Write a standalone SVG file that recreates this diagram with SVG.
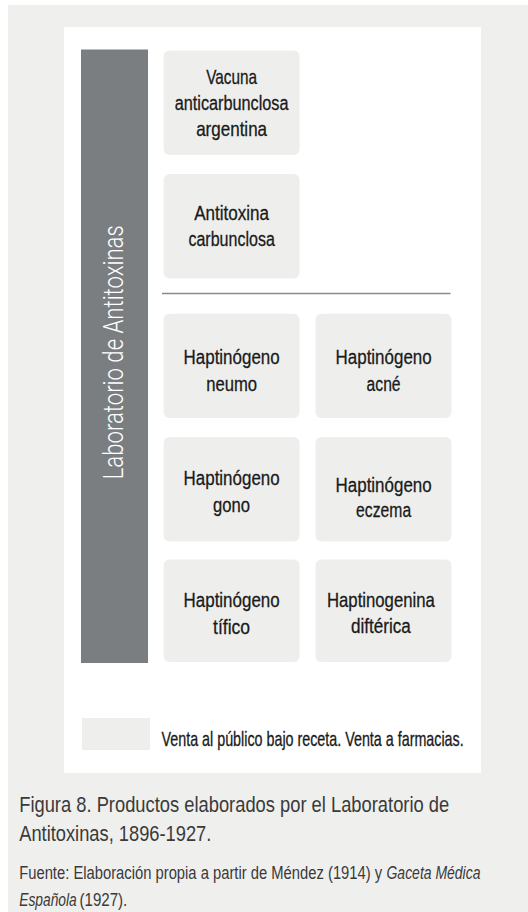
<svg xmlns="http://www.w3.org/2000/svg" width="528" height="912" viewBox="0 0 528 912">
<style>
.bg{fill:#efefee}
.panel{fill:#ffffff}
.box{fill:#eeefed}
.t{font-family:"Liberation Sans",Arial,sans-serif;font-size:21px;fill:#1a1a1a;stroke:#1a1a1a;stroke-width:0.3;text-anchor:middle}
.lg{font-family:"Liberation Sans",Arial,sans-serif;font-size:20px;fill:#1a1a1a;stroke:#1a1a1a;stroke-width:0.3}
.cap{font-family:"Liberation Sans",Arial,sans-serif;font-size:22.5px;fill:#3a3a3a}
.src{font-family:"Liberation Sans",Arial,sans-serif;font-size:18.5px;fill:#3a3a3a}
.it{font-style:italic}
.vt{font-family:Roboto,"Open Sans","Liberation Sans",sans-serif;font-weight:300;font-size:28px;fill:#ffffff}
</style>
<rect class="bg" x="8" y="5" width="520" height="907"/>
<rect class="panel" x="64" y="27" width="417" height="746"/>
<g id="laboratorio">
<rect x="81" y="49.5" width="67" height="613.5" fill="#7b7e81"/>
<text class="vt" transform="translate(122.7,479.3) rotate(-90)" x="0" y="0" textLength="254" lengthAdjust="spacingAndGlyphs">Laboratorio de Antitoxinas</text>
</g>
<g id="vacuna">
<rect class="box" x="163.6" y="50.5" width="136" height="104.5" rx="6"/>
<text class="t" transform="translate(231.6,84.3) scale(0.730,1)">Vacuna</text>
<text class="t" transform="translate(231.6,110) scale(0.775,1)">anticarbunclosa</text>
<text class="t" transform="translate(231.6,136) scale(0.810,1)">argentina</text>
</g>
<g id="antitoxina">
<rect class="box" x="163.6" y="174" width="136" height="104.5" rx="6"/>
<text class="t" transform="translate(231.6,219.5) scale(0.813,1)">Antitoxina</text>
<text class="t" transform="translate(231.6,245.8) scale(0.764,1)">carbunclosa</text>
</g>
<g id="connectors">
<line x1="162" y1="293.5" x2="450.5" y2="293.5" stroke="#8a8a8a" stroke-width="1.6"/>
</g>
<g id="neumo">
<rect class="box" x="163.6" y="313.7" width="136" height="104.3" rx="6"/>
<text class="t" transform="translate(231.6,364) scale(0.807,1)">Haptinógeno</text>
<text class="t" transform="translate(231.6,391) scale(0.794,1)">neumo</text>
</g>
<g id="acne">
<rect class="box" x="315.5" y="313.7" width="136" height="104.3" rx="6"/>
<text class="t" transform="translate(383.6,364) scale(0.807,1)">Haptinógeno</text>
<text class="t" transform="translate(383.6,391) scale(0.747,1)">acné</text>
</g>
<g id="gono">
<rect class="box" x="163.6" y="437" width="136" height="104.5" rx="6"/>
<text class="t" transform="translate(231.6,485.4) scale(0.807,1)">Haptinógeno</text>
<text class="t" transform="translate(231.6,512) scale(0.792,1)">gono</text>
</g>
<g id="eczema">
<rect class="box" x="315.5" y="437" width="136" height="104.5" rx="6"/>
<text class="t" transform="translate(383.6,491.5) scale(0.807,1)">Haptinógeno</text>
<text class="t" transform="translate(383.6,517.4) scale(0.749,1)">eczema</text>
</g>
<g id="tifico">
<rect class="box" x="163.6" y="559.5" width="136" height="102.5" rx="6"/>
<text class="t" transform="translate(231.6,607) scale(0.807,1)">Haptinógeno</text>
<text class="t" transform="translate(231.6,633.5) scale(0.834,1)">tífico</text>
</g>
<g id="difterica">
<rect class="box" x="315.5" y="559.5" width="136" height="102.5" rx="6"/>
<text class="t" transform="translate(380.9,606.7) scale(0.797,1)">Haptinogenina</text>
<text class="t" transform="translate(380.9,632.7) scale(0.816,1)">diftérica</text>
</g>
<g id="legend">
<rect class="box" x="82" y="718" width="68" height="32"/>
<text class="lg" transform="translate(161.5,745.7) scale(0.716,1)">Venta al público bajo receta. Venta a farmacias.</text>
</g>
<g id="caption">
<text class="cap" transform="translate(19.2,812.3) scale(0.815,1)">Figura 8. Productos elaborados por el Laboratorio de</text>
<text class="cap" transform="translate(19.2,841) scale(0.813,1)">Antitoxinas, 1896-1927.</text>
<text class="src" transform="translate(19.2,879) scale(0.799,1)">Fuente: Elaboración propia a partir de Méndez (1914) y</text>
<text class="src it" transform="translate(386.5,879) scale(0.756,1)">Gaceta Médica</text>
<text class="src it" transform="translate(19.2,906) scale(0.747,1)">Española</text>
<text class="src" transform="translate(79.5,906) scale(0.816,1)">(1927).</text>
</g>
</svg>
